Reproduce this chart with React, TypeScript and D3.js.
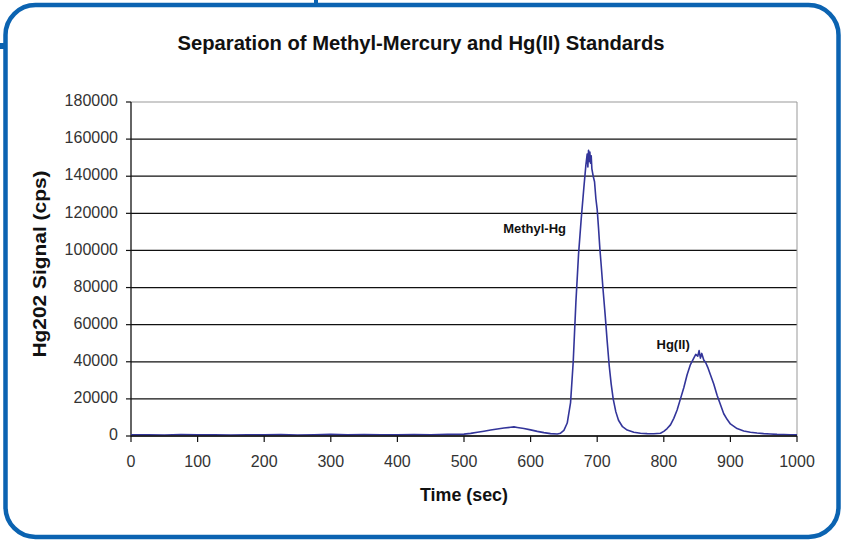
import React from "react";
import * as d3 from "d3";

const title = "Separation of Methyl-Mercury and Hg(II) Standards";
const xTicks = [0, 100, 200, 300, 400, 500, 600, 700, 800, 900, 1000];
const yTicks = [0, 20000, 40000, 60000, 80000, 100000, 120000, 140000, 160000, 180000];

const times = [0, 25, 50, 75, 100, 125, 150, 175, 200, 225, 250, 275, 300, 325, 350, 375, 400, 425, 450, 475,
  500, 510, 520, 530, 540, 550, 560, 570, 575, 580, 590, 600, 610, 620, 630, 640, 645, 650, 655, 660, 664, 668,
  672, 676, 680, 683, 685, 686, 687, 688, 689, 690, 691, 692, 694, 696, 698, 700, 702, 704, 706, 709, 712, 715,
  718, 721, 724, 728, 732, 738, 745, 755, 765, 775, 785, 795, 800, 805, 810, 815, 820, 825, 830, 835, 840, 845,
  848, 851, 853, 855, 857, 860, 863, 866, 870, 875, 880, 885, 890, 895, 900, 910, 920, 930, 940, 950, 960, 970,
  980, 990, 1000];
const signal = [600, 700, 500, 800, 600, 700, 500, 700, 600, 800, 500, 700, 900, 600, 800, 700, 600, 800, 700, 900,
  1000, 1400, 2000, 2600, 3200, 3800, 4300, 4700, 4900, 4600, 4000, 3300, 2500, 1800, 1300, 1100, 1500, 3000, 7000, 18000, 40000, 72000,
  98000, 117000, 134000, 146000, 152000, 145000, 154000, 148000, 153000, 147000, 151000, 144000, 140000, 137000, 128000, 122000, 112000, 101000, 92000, 78000, 65000, 51000,
  38000, 28000, 20000, 13000, 8500, 5000, 3200, 2000, 1500, 1300, 1200, 1500, 2500, 4000, 6000, 9500, 14000, 20000, 26000, 33000, 38500, 42000,
  44000, 43000, 46000, 42000, 44500, 41000, 39500, 37000, 33000, 28000, 22000, 17000, 12000, 9000, 6500, 4000, 2700, 2000, 1600, 1300, 1100, 900,
  800, 700, 600];

const annotationLabels = ["Methyl-Hg", "Hg(II)"];
const annotationTimes = [606, 814];
const annotationValues = [111000, 48500];

const W = 843, H = 540;
const M = { left: 131, right: 797, top: 102, bottom: 436 };

export default function App() {
  const x = d3.scaleLinear().domain([0, 1000]).range([M.left, M.right]);
  const y = d3.scaleLinear().domain([0, 180000]).range([M.bottom, M.top]);
  const line = d3.line<number>().x((_, i) => x(times[i])).y((d) => y(d));
  const font = "'Liberation Sans', Arial, sans-serif";
  return (
    <svg width={W} height={H} style={{ position: "fixed", left: 0, top: 0, background: "#fff" }}>
      <rect x={0} y={0} width={W} height={H} fill="#fff" />
      <rect x={5.5} y={5} width={833} height={532} rx={30} ry={30} fill="none" stroke="#0b63b1" strokeWidth={4.5} />
      <rect x={0} y={43} width={5} height={6} fill="#0b63b1" />
      <rect x={314} y={0} width={4} height={5} fill="#0b63b1" />
      <text x={421} y={45} textAnchor="middle" dominantBaseline="middle" fontFamily={font} fontWeight="bold" fontSize={20} fill="#111"
        textLength={487} lengthAdjust="spacingAndGlyphs">{title}</text>
      {yTicks.map((t) => (
        <line key={"g" + t} x1={M.left} x2={M.right} y1={y(t)} y2={y(t)}
          stroke={t === 180000 ? "#999" : "#111"} strokeWidth={t === 180000 ? 1 : 1.2} />
      ))}
      <line x1={M.right} x2={M.right} y1={M.top} y2={M.bottom} stroke="#999" strokeWidth={1} />
      <line x1={M.left} x2={M.left} y1={M.top} y2={M.bottom + 0.5} stroke="#111" strokeWidth={1.3} />
      {yTicks.map((t) => (
        <g key={"yt" + t}>
          <line x1={M.left - 5} x2={M.left} y1={y(t)} y2={y(t)} stroke="#111" strokeWidth={1.2} />
          <text x={118} y={y(t)} textAnchor="end" dominantBaseline="middle" fontFamily={font} fontSize={16} fill="#333">{t}</text>
        </g>
      ))}
      {xTicks.map((t) => (
        <g key={"xt" + t}>
          <line x1={x(t)} x2={x(t)} y1={M.bottom} y2={M.bottom + 6} stroke="#111" strokeWidth={1.2} />
          <text x={x(t)} y={463} textAnchor="middle" dominantBaseline="middle" fontFamily={font} fontSize={16} fill="#333">{t}</text>
        </g>
      ))}
      <path d={line(signal) || ""} fill="none" stroke="#33359a" strokeWidth={1.6} strokeLinejoin="round" />
      <line x1={M.left} x2={M.right} y1={M.bottom} y2={M.bottom} stroke="#111" strokeWidth={1.3} />
      <text x={464} y={496} textAnchor="middle" dominantBaseline="middle" fontFamily={font} fontWeight="bold" fontSize={18} fill="#111"
        textLength={88} lengthAdjust="spacingAndGlyphs">Time (sec)</text>
      <text transform={`translate(41,264) rotate(-90)`} textAnchor="middle" dominantBaseline="middle" fontFamily={font} fontWeight="bold" fontSize={18} fill="#111"
        textLength={187} lengthAdjust="spacingAndGlyphs">Hg202 Signal (cps)</text>
      {annotationLabels.map((label, i) => (
        <text key={label} x={x(annotationTimes[i])} y={y(annotationValues[i])} textAnchor="middle" dominantBaseline="middle" fontFamily={font} fontWeight="bold" fontSize={13} fill="#111">{label}</text>
      ))}
    </svg>
  );
}
